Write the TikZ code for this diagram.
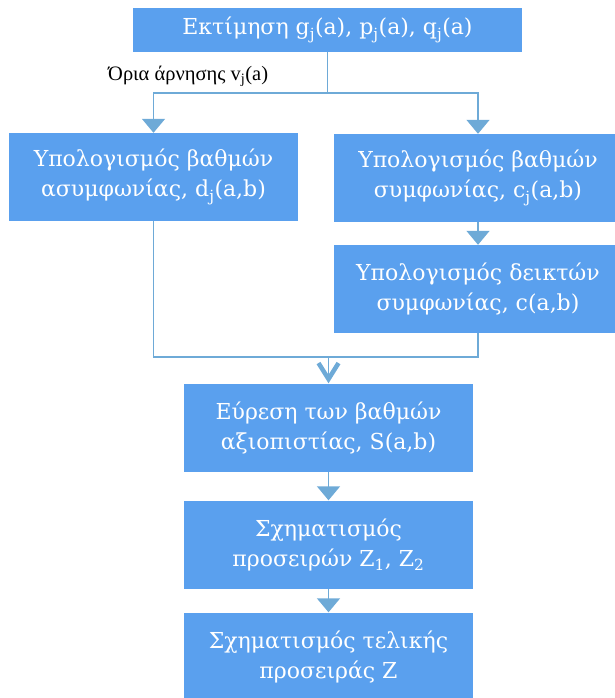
\documentclass[tikz,border=0pt]{standalone}
\usepackage{fontspec}
\setmainfont{DejaVu Serif}
\newfontfamily\labelfont{Liberation Serif}
\usetikzlibrary{arrows.meta}
\definecolor{boxblue}{RGB}{90,160,238}
\definecolor{linkblue}{RGB}{110,170,215}
\tikzset{
  stepbox/.style={rectangle, fill=boxblue, text=white, minimum width=289pt,
    minimum height=88pt, align=center, inner sep=0pt,
    font=\fontsize{22}{30}\selectfont},
  conn/.style={draw=linkblue, line width=1.5pt},
  filltip/.style={-{Triangle[width=23pt,length=14pt]}},
  barbtip/.style={-{Straight Barb[width=20pt,length=16pt,line width=4.5pt]}},
}
\begin{document}
\begin{tikzpicture}[x=1pt, y=-1pt]
\useasboundingbox (0,0) rectangle (614,698);

% process steps
\node[stepbox, minimum width=389pt, minimum height=44pt] (est) at (327.5,30)
  {Εκτίμηση g\textsubscript{j}(a), p\textsubscript{j}(a), q\textsubscript{j}(a)};
\node[stepbox] (disc) at (153.5,177)
  {Υπολογισμός βαθμών\\ασυμφωνίας, d\textsubscript{j}(a,b)};
\node[stepbox] (conc) at (478,178)
  {Υπολογισμός βαθμών\\συμφωνίας, c\textsubscript{j}(a,b)};
\node[stepbox] (cidx) at (478,289)
  {Υπολογισμός δεικτών\\συμφωνίας, c(a,b)};
\node[stepbox] (cred) at (328.5,427.5)
  {Εύρεση των βαθμών\\αξιοπιστίας, S(a,b)};
\node[stepbox] (pre) at (328.5,544.5)
  {Σχηματισμός\\προσειρών Z\textsubscript{1}, Z\textsubscript{2}};
\node[stepbox] (fin) at (328.5,656.5)
  {Σχηματισμός τελικής\\προσειράς Z};

% veto label
\node[text=black, font=\labelfont\fontsize{20.5}{22}\selectfont, inner sep=0pt,
  anchor=west] (veto) at (108,76) {Όρια άρνησης v\textsubscript{j}(a)};

% connectors
\coordinate (split) at (est.south |- 0,93);
\coordinate (merge) at (cred.north |- 0,357);
\draw[conn] (est.south) -- (split);
\draw[conn, filltip] (split) -| (disc.north);
\draw[conn, filltip] (split) -| (conc.north);
\draw[conn, filltip] (conc.south) -- (cidx.north);
\draw[conn] (disc.south) |- (merge) -| (cidx.south);
\draw[conn, barbtip] (merge) -- (cred.north);
\draw[conn, filltip] (cred.south) -- (pre.north);
\draw[conn, filltip] (pre.south) -- (fin.north);
\end{tikzpicture}
\end{document}
